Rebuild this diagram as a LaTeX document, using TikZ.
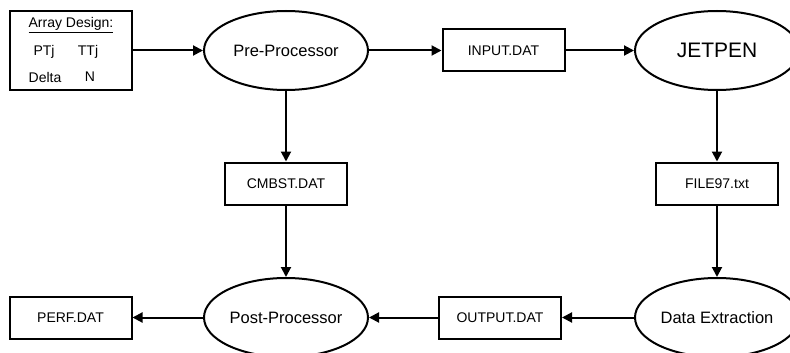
\documentclass[tikz,border=0pt]{standalone}
\usepackage{fontspec}
\setmainfont{Liberation Sans}
\usetikzlibrary{shapes.geometric,arrows.meta}
\begin{document}
\begin{tikzpicture}[x=1pt,y=-1pt,
  every node/.style={inner sep=0pt},
  procell/.style={draw, line width=2pt, ellipse, minimum width=164pt, minimum height=79pt, font=\fontsize{16.5}{18}\selectfont},
  filebox/.style={draw, line width=2pt, rectangle, minimum width=122pt, minimum height=42pt, font=\fontsize{14}{16}\selectfont},
  flow/.style={line width=2pt, -{Triangle[length=10pt,width=10pt]}}]
\clip (0,0) rectangle (790,353);
\useasboundingbox (0,0) rectangle (790,353);
% Array design box
\node[draw, line width=2pt, minimum width=122pt, minimum height=79pt] (array) at (71,50.5) {};
\node[font=\fontsize{14}{16}\selectfont] (ad) at (71,25) {\underline{Array Design:}};
\node[font=\fontsize{14}{16}\selectfont] (ptj) at (44,52) {PTj};
\node[font=\fontsize{14}{16}\selectfont] (ttj) at (88,52) {TTj};
\node[font=\fontsize{14}{16}\selectfont] (delta) at (45,77) {Delta};
\node[font=\fontsize{14}{16}\selectfont] (nn) at (90,77) {N};
% processes
\node[procell] (pre) at (286,50.5) {Pre-Processor};
\node[procell, font=\fontsize{21}{24}\selectfont] (jet) at (717,50.5) {JETPEN};
\node[procell] (post) at (286,317.5) {Post-Processor};
\node[procell] (dex) at (717,317.5) {Data Extraction};
% files
\node[filebox] (input) at (503.5,50.5) {INPUT.DAT};
\node[filebox] (cmbst) at (286,183.5) {CMBST.DAT};
\node[filebox] (file97) at (717,183.5) {FILE97.txt};
\node[filebox] (output) at (500,317.5) {OUTPUT.DAT};
\node[filebox] (perf) at (70.5,317.5) {PERF.DAT};
% connectors
\draw[flow] (array.east) -- (pre.west);
\draw[flow] (pre.east) -- (input.west);
\draw[flow] (input.east) -- (jet.west);
\draw[flow] (pre.south) -- (cmbst.north);
\draw[flow] (cmbst.south) -- (post.north);
\draw[flow] (jet.south) -- (file97.north);
\draw[flow] (file97.south) -- (dex.north);
\draw[flow] (dex.west) -- (output.east);
\draw[flow] (output.west) -- (post.east);
\draw[flow] (post.west) -- (perf.east);
\end{tikzpicture}
\end{document}
